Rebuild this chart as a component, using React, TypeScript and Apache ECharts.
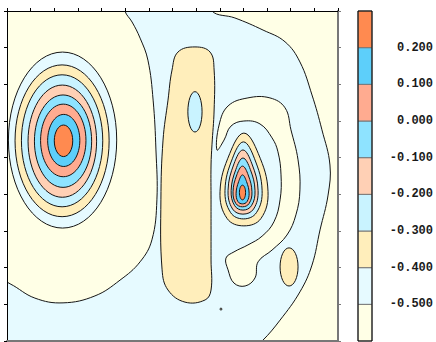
import React, { useEffect, useRef } from 'react';
import * as echarts from 'echarts';

// contour levels and band fill colours (band 0 = below -0.5 ... band 8 = above 0.2)
const levels = [-0.5, -0.4, -0.3, -0.2, -0.1, 0.0, 0.1, 0.2];
const colorbarMin = -0.6;
const colorbarMax = 0.3;
const bandColors = ['#FFFFE6', '#E6FAFF', '#FFEEBB', '#C9F3FF', '#FFD0B5', '#8EE3FF', '#FFAB90', '#5DCFFA', '#FF8A50'];

// polygon contours (data units), drawn in order
const centralRegion = [
  [4.9, 9.5], [4.99, 9.0], [5.29, 8.7], [5.63, 8.26], [5.96, 7.66], [6.18, 6.57], [6.3, 5.21], [6.34, 3.85],
  [6.13, 2.76], [5.63, 2.16], [4.78, 1.66], [3.72, 1.23], [2.37, 1.04], [1.18, 1.17], [0.13, 1.56], [-0.5, 1.72],
  [-0.5, -0.4], [10.07, -0.38], [10.79, 0.0], [11.55, 0.57], [12.39, 1.34], [12.9, 2.07], [13.24, 3.03],
  [13.58, 3.98], [13.66, 4.8], [13.32, 5.76], [12.9, 6.71], [12.39, 7.61], [11.76, 8.16], [10.83, 8.48],
  [9.64, 8.81], [8.67, 9.0], [8.6, 9.5],
];
const beigeBand = [
  [7.23, 7.88], [7.95, 8.02], [8.59, 7.88], [8.76, 7.39], [8.76, 6.3], [8.67, 5.35], [8.63, 4.8], [8.63, 3.85],
  [8.63, 3.03], [8.63, 2.21], [8.63, 1.39], [8.38, 1.12], [7.53, 1.06], [6.81, 1.39], [6.56, 1.94], [6.51, 3.85],
  [6.6, 5.48], [6.81, 6.57], [6.98, 7.39],
];
const troughAroundPeak = [
  [8.88, 5.21], [8.97, 5.89], [9.35, 6.41], [10.19, 6.63], [11.12, 6.63], [11.76, 6.36], [12.01, 5.76], [12.31, 4.94],
  [12.39, 4.12], [12.22, 3.44], [11.84, 2.89], [11.21, 2.48], [10.62, 2.16], [10.49, 1.72], [10.07, 1.5], [9.6, 1.58],
  [9.35, 1.94], [9.26, 2.26],
  [9.6, 2.43], [10.19, 2.62], [10.79, 2.86], [11.29, 3.25], [11.55, 3.85], [11.59, 4.53], [11.46, 5.16], [11.21, 5.54],
  [10.7, 5.92], [10.02, 6.0], [9.47, 5.86], [9.18, 5.48],
];
const peakRing04 = [[10.02, 5.67], [10.63, 5.11], [11.04, 4.08], [10.74, 3.34], [10.02, 3.14], [9.31, 3.34], [9.01, 4.08], [9.42, 5.11]];
const peakRing03 = [[10.0, 5.43], [10.47, 4.97], [10.79, 4.11], [10.55, 3.5], [10.0, 3.33], [9.46, 3.5], [9.22, 4.11], [9.53, 4.97]];
const peakRing02 = [[9.98, 5.21], [10.36, 4.83], [10.62, 4.11], [10.43, 3.6], [9.98, 3.46], [9.54, 3.6], [9.35, 4.11], [9.6, 4.83]];
const peakRing01 = [[9.98, 4.99], [10.29, 4.68], [10.49, 4.1], [10.34, 3.69], [9.98, 3.57], [9.63, 3.69], [9.48, 4.1], [9.68, 4.68]];
const peakRing00 = [[9.96, 4.77], [10.2, 4.53], [10.36, 4.07], [10.24, 3.75], [9.96, 3.66], [9.68, 3.75], [9.56, 4.07], [9.72, 4.53]];
const peakRingP1 = [[9.96, 4.53], [10.13, 4.35], [10.24, 4.03], [10.15, 3.8], [9.96, 3.74], [9.77, 3.8], [9.69, 4.03], [9.8, 4.35]];

const polygonBands = [1, 2, 0, 2, 3, 4, 5, 6, 7];
const polygonShapes = [centralRegion, beigeBand, troughAroundPeak, peakRing04, peakRing03, peakRing02, peakRing01, peakRing00, peakRingP1];

// elliptical contours: band, centre and half-axes (data units)
const ellipseBand = [1, 2, 3, 4, 5, 6, 7, 8, 3, 8, 2, 0];
const ellipseCx = [2.35, 2.33, 2.33, 2.34, 2.37, 2.38, 2.4, 2.39, 7.95, 9.96, 11.93, 9.05];
const ellipseCy = [5.48, 5.46, 5.46, 5.45, 5.45, 5.47, 5.47, 5.46, 6.25, 4.05, 2.02, 0.87];
const ellipseRx = [2.29, 1.99, 1.72, 1.45, 1.21, 0.96, 0.68, 0.39, 0.3, 0.13, 0.38, 0.04];
const ellipseRy = [2.4, 2.07, 1.8, 1.53, 1.26, 0.99, 0.71, 0.43, 0.55, 0.2, 0.52, 0.03];

const labelFont = { fontFamily: '"Liberation Mono", "DejaVu Sans Mono", monospace', fontWeight: 'bold' as const, fontSize: 12, color: '#1a1a1a' };

export default function App() {
  const ref = useRef<HTMLDivElement>(null);
  useEffect(() => {
    if (!ref.current) return;
    const chart = echarts.init(ref.current, null, { renderer: 'svg' });
    const lineStyle = { stroke: '#151515', lineWidth: 1 };
    const bounds = [colorbarMin, ...levels, colorbarMax];
    chart.setOption({
      animation: false,
      grid: [
        { left: 7, top: 11, width: 331, height: 330, show: true, backgroundColor: bandColors[0], borderWidth: 0 },
        { left: 358, top: 11, width: 21, height: 330, show: false },
      ],
      xAxis: [
        { gridIndex: 0, type: 'value', min: 0, max: 14, interval: 1, position: 'bottom', z: 10,
          axisLine: { show: true, lineStyle: { color: '#777', width: 2 } }, axisTick: { show: true, length: 3, lineStyle: { color: '#777' } },
          axisLabel: { show: false }, splitLine: { show: false } },
        { gridIndex: 0, type: 'value', min: 0, max: 14, interval: 1, position: 'top', z: 10,
          axisLine: { show: true, onZero: false, lineStyle: { color: '#000', width: 1 } }, axisTick: { show: true, length: 3, lineStyle: { color: '#000' } },
          axisLabel: { show: false }, splitLine: { show: false } },
        { gridIndex: 1, type: 'value', min: 0, max: 1, show: false },
      ],
      yAxis: [
        { gridIndex: 0, type: 'value', min: 0, max: 9, interval: 1, position: 'left', z: 10,
          axisLine: { show: true, onZero: false, lineStyle: { color: '#000', width: 1 } }, axisTick: { show: true, length: 3, lineStyle: { color: '#000' } },
          axisLabel: { show: false }, splitLine: { show: false } },
        { gridIndex: 0, type: 'value', min: 0, max: 9, interval: 1, position: 'right', z: 10,
          axisLine: { show: true, onZero: false, lineStyle: { color: '#777', width: 2 } }, axisTick: { show: true, length: 3, lineStyle: { color: '#777' } },
          axisLabel: { show: false }, splitLine: { show: false } },
        { gridIndex: 1, type: 'value', min: colorbarMin, max: colorbarMax, interval: 0.1, position: 'right',
          axisLine: { show: false }, axisTick: { show: false }, splitLine: { show: false },
          axisLabel: { show: true, align: 'right', margin: 61, ...labelFont,
            formatter: (v: number) => (v < -0.55 || v > 0.25 ? '' : (Math.abs(v) < 1e-9 ? 0 : v).toFixed(3)) } },
      ],
      series: [
        {
          type: 'custom', xAxisIndex: 0, yAxisIndex: 0, clip: true, silent: true,
          data: polygonShapes.map((_, i) => [i, 0]),
          renderItem: (params: any, api: any) => {
            const i = params.dataIndex;
            const points = polygonShapes[i].map((p) => api.coord(p));
            return { type: 'polygon', shape: { points, smooth: 0.4 }, style: { fill: bandColors[polygonBands[i]], ...lineStyle } };
          },
        },
        {
          type: 'custom', xAxisIndex: 0, yAxisIndex: 0, clip: true, silent: true,
          data: ellipseCx.map((_, i) => [i, 0]),
          renderItem: (params: any, api: any) => {
            const i = params.dataIndex;
            const c = api.coord([ellipseCx[i], ellipseCy[i]]);
            const s = api.size([ellipseRx[i], ellipseRy[i]]);
            return { type: 'ellipse', shape: { cx: c[0], cy: c[1], rx: s[0], ry: s[1] }, style: { fill: bandColors[ellipseBand[i]], ...lineStyle } };
          },
        },
        {
          type: 'custom', xAxisIndex: 2, yAxisIndex: 2, silent: true,
          data: [[0, 0]],
          renderItem: (params: any, api: any) => {
            const children: any[] = [];
            for (let b = 0; b < bandColors.length; b++) {
              const p0 = api.coord([0, bounds[b + 1]]);
              const p1 = api.coord([1, bounds[b]]);
              children.push({ type: 'rect', shape: { x: p0[0], y: p0[1], width: p1[0] - p0[0], height: p1[1] - p0[1] }, style: { fill: bandColors[b], stroke: '#777', lineWidth: 1 } });
            }
            const t = api.coord([0, colorbarMax]);
            const bt = api.coord([1, colorbarMin]);
            children.push({ type: 'rect', shape: { x: t[0], y: t[1], width: bt[0] - t[0], height: bt[1] - t[1] }, style: { fill: 'none', stroke: '#000', lineWidth: 1 } });
            return { type: 'group', children };
          },
        },
      ],
    });
    return () => chart.dispose();
  }, []);
  return <div ref={ref} style={{ width: 436, height: 342, position: 'absolute', left: 0, top: 0 }} />;
}
